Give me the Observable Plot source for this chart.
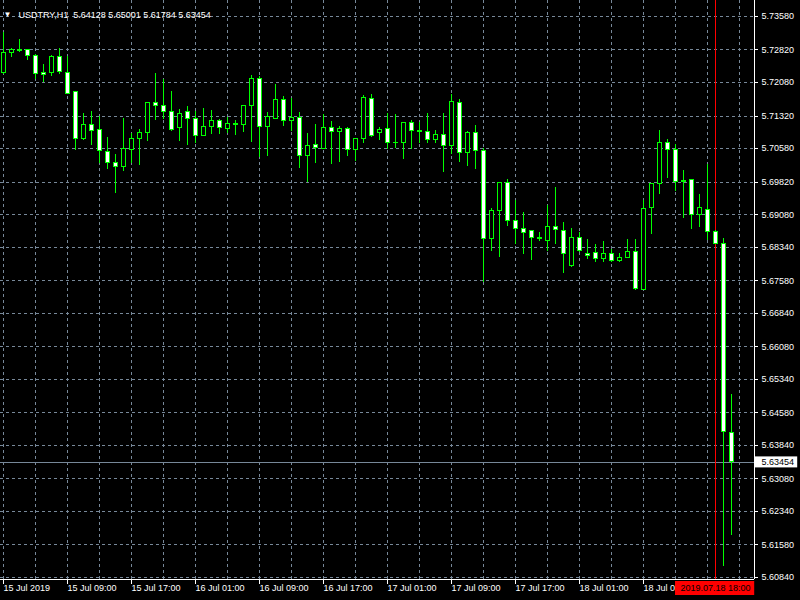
<!DOCTYPE html>
<html><head><meta charset="utf-8">
<script src="https://cdn.jsdelivr.net/npm/d3@7"></script>
<script src="https://cdn.jsdelivr.net/npm/@observablehq/plot@0.6"></script>
<style>html,body{margin:0;padding:0;background:#000;overflow:hidden}</style>
</head><body><div id="chart"></div>
<script>
const symbolLabel = "USDTRY,H1";
const opens = [5.72308,5.72746,5.72819,5.72808,5.72694,5.72308,5.72292,5.72671,5.72308,5.71854,
5.70793,5.71127,5.70991,5.70514,5.70264,5.70158,5.70553,5.70793,5.70930,5.71620,
5.71552,5.71416,5.71043,5.71400,5.71257,5.70862,5.71066,5.71211,5.71021,5.71139,
5.71120,5.71543,5.72165,5.71075,5.71263,5.71688,5.71211,5.71279,5.70407,5.70666,
5.70566,5.71052,5.70952,5.71030,5.70544,5.70787,5.71711,5.70930,5.71030,5.70718,
5.70703,5.71150,5.70980,5.70961,5.70771,5.70900,5.70634,5.71620,5.70475,5.70923,
5.70530,5.68523,5.69158,5.69803,5.68940,5.68759,5.68713,5.68550,5.68493,5.68804,
5.68720,5.67909,5.68554,5.68191,5.68214,5.68068,5.68191,5.68023,5.68100,5.68236,
5.67380,5.69220,5.69771,5.70718,5.70537,5.69844,5.69856,5.69068,5.69197,5.68691,
5.68418,5.64128];
const highs = [5.73216,5.72842,5.73057,5.72819,5.72706,5.72490,5.72683,5.72846,5.72671,5.71865,
5.71377,5.71422,5.71309,5.70839,5.70446,5.71270,5.70923,5.71014,5.71627,5.72285,
5.72149,5.71877,5.71461,5.71536,5.71429,5.71491,5.71445,5.71234,5.71279,5.71218,
5.71559,5.72240,5.72217,5.71393,5.72036,5.71763,5.71711,5.71393,5.70916,5.71127,
5.71348,5.71195,5.71082,5.71059,5.70809,5.71793,5.71808,5.71052,5.71370,5.71348,
5.71173,5.71218,5.71173,5.71377,5.70991,5.71377,5.71808,5.71695,5.70975,5.71105,
5.70582,5.69220,5.69810,5.69878,5.69401,5.69129,5.68720,5.68675,5.69288,5.69697,
5.68909,5.68765,5.68675,5.68516,5.68402,5.68470,5.68289,5.68198,5.68516,5.68516,
5.69401,5.69787,5.70991,5.70787,5.70673,5.70083,5.69878,5.69538,5.70212,5.68720,
5.68532,5.65001];
const lows = [5.72263,5.72656,5.72769,5.72581,5.72149,5.72088,5.72224,5.72263,5.71808,5.70537,
5.70764,5.70650,5.70248,5.70112,5.69567,5.70067,5.70248,5.70196,5.70748,5.71218,
5.71241,5.70961,5.70741,5.70657,5.70703,5.70855,5.70900,5.70900,5.70916,5.70884,
5.70946,5.70725,5.70385,5.70401,5.71234,5.71082,5.70975,5.70135,5.69817,5.70235,
5.70560,5.70219,5.70271,5.70407,5.70294,5.70703,5.70839,5.70764,5.70553,5.70589,
5.70332,5.70560,5.70703,5.70703,5.70689,5.70037,5.70446,5.70271,5.70180,5.70099,
5.67546,5.68250,5.68114,5.68811,5.68395,5.68182,5.68039,5.68463,5.68250,5.68402,
5.67750,5.67880,5.68220,5.68062,5.67993,5.67993,5.67993,5.67993,5.68091,5.67357,
5.67369,5.68629,5.69544,5.69908,5.69613,5.68999,5.68743,5.68788,5.68493,5.68402,
5.61090,5.61784];
const closes = [5.72762,5.72830,5.72796,5.72678,5.72269,5.72247,5.72671,5.72315,5.71824,5.70793,
5.71127,5.70975,5.70521,5.70248,5.70158,5.70560,5.70802,5.70939,5.71620,5.71552,
5.71407,5.70998,5.71370,5.71248,5.70862,5.71075,5.71211,5.71052,5.71143,5.71123,
5.71552,5.72165,5.71075,5.71293,5.71688,5.71202,5.71279,5.70407,5.70644,5.70598,
5.71052,5.70952,5.71030,5.70544,5.70802,5.71740,5.70877,5.70991,5.70703,5.70703,
5.71150,5.70975,5.70957,5.70771,5.70900,5.70634,5.71643,5.70475,5.70923,5.70521,
5.68523,5.69167,5.69803,5.68931,5.68750,5.68659,5.68545,5.68527,5.68804,5.68736,
5.68182,5.68554,5.68250,5.68136,5.68068,5.68191,5.68023,5.68107,5.68243,5.67387,
5.69213,5.69780,5.70696,5.70544,5.69817,5.69826,5.69068,5.69220,5.68681,5.68418,
5.64135,5.63454];
const priceTicks = [5.73580,5.72820,5.72080,5.71320,5.70580,5.69820,5.69080,5.68340,5.67580,
5.66840,5.66080,5.65340,5.64580,5.63840,5.63080,5.62340,5.61580,5.60840];
const timeLabels = ["15 Jul 2019","15 Jul 09:00","15 Jul 17:00","16 Jul 01:00","16 Jul 09:00",
"16 Jul 17:00","17 Jul 01:00","17 Jul 09:00","17 Jul 17:00","18 Jul 01:00","18 Jul 09:00"];
const labelBars = [0,8,16,24,32,40,48,56,64,72,80];
const cursorBar = 89;
const cursorLabel = "2019.07.18 18:00";

const bars = opens.map((o, i) => ({i, o, h: highs[i], l: lows[i], c: closes[i]}));
const bullBars = bars.filter(d => d.c >= d.o);
const bearBars = bars.filter(d => d.c < d.o);
const last = bars[bars.length - 1];
const header = symbolLabel + "\u00a0\u00a0" + [last.o, last.h, last.l, last.c].map(v => v.toFixed(5)).join(" ");
const labels = timeLabels.map((t, j) => ({bar: labelBars[j], t}));

const xDomain = [-0.375, 93.875];
const yDomain = [5.60795, 5.73943];
const gridBars = d3.range(0, 94, 4);
const font = "'Liberation Sans', Arial, sans-serif";
const gridColor = "#778899";
const green = "#00ff00";
const px = (yDomain[1] - yDomain[0]) / 579;

const chart = Plot.plot({
  width: 800, height: 600,
  marginLeft: 0, marginRight: 46, marginTop: 0, marginBottom: 21,
  style: {background: "#000", color: "#fff", fontFamily: font, fontSize: "9px"},
  x: {type: "linear", domain: xDomain, axis: null},
  y: {type: "linear", domain: yDomain, axis: null},
  marks: [
    Plot.ruleY(priceTicks, {stroke: gridColor, strokeDasharray: "3,3", shapeRendering: "crispEdges"}),
    Plot.ruleX(gridBars, {stroke: gridColor, strokeDasharray: "3,3", shapeRendering: "crispEdges"}),
    Plot.ruleY([last.c], {stroke: gridColor, shapeRendering: "crispEdges"}),
    Plot.ruleX([cursorBar], {stroke: "#ff0000", shapeRendering: "crispEdges"}),
    Plot.ruleX(bars, {x: "i", y1: "l", y2: "h", stroke: green, shapeRendering: "crispEdges"}),
    Plot.rect(bullBars, {x1: d => d.i - 0.25, x2: d => d.i + 0.25, y1: "o", y2: "c", fill: "#000", stroke: green, shapeRendering: "crispEdges"}),
    Plot.rect(bearBars, {x1: d => d.i - 0.25, x2: d => d.i + 0.25, y1: "o", y2: "c", fill: "#fff", stroke: green, shapeRendering: "crispEdges"}),
    Plot.ruleX([xDomain[1]], {stroke: "#fff", shapeRendering: "crispEdges"}),
    Plot.ruleY([yDomain[0]], {x1: xDomain[0], x2: xDomain[1], stroke: "#fff", shapeRendering: "crispEdges"}),
    Plot.ruleY(priceTicks, {x1: xDomain[1], x2: xDomain[1] + 0.45, stroke: "#fff", shapeRendering: "crispEdges"}),
    Plot.text(priceTicks, {x: xDomain[1], y: d => d, text: d => d.toFixed(5), dx: 7, textAnchor: "start", fill: "#fff"}),
    Plot.ruleX(labels, {x: "bar", y1: yDomain[0], y2: yDomain[0] - 5 * px, stroke: "#fff", shapeRendering: "crispEdges"}),
    Plot.text(labels, {x: "bar", y: yDomain[0], text: "t", dy: 9, dx: 0, textAnchor: "start", fill: "#fff"}),
    Plot.rect([last.c], {x1: xDomain[1] + 0.1, x2: xDomain[1] + 5.4, y1: d => d + 5.5 * px, y2: d => d - 5.5 * px, fill: "#fff"}),
    Plot.text([last.c], {x: xDomain[1], y: d => d, text: d => d.toFixed(5), dx: 7, textAnchor: "start", fill: "#000"}),
    Plot.rect([cursorBar], {x1: d => d - 5, x2: d => d + 4.9, y1: yDomain[0] - 2 * px, y2: yDomain[0] - 16 * px, fill: "#ff0000"}),
    Plot.text([cursorBar], {x: d => d, y: yDomain[0], text: () => cursorLabel, dy: 9, textAnchor: "middle", fill: "#000"}),
    Plot.text(["\u25bc"], {frameAnchor: "top-left", dx: 7, dy: 11, textAnchor: "middle", fill: "#fff", fontSize: 8}),
    Plot.text([header], {frameAnchor: "top-left", dx: 18, dy: 11, textAnchor: "start", fill: "#fff"})
  ]
});
document.getElementById("chart").appendChild(chart);
</script>
</body></html>
